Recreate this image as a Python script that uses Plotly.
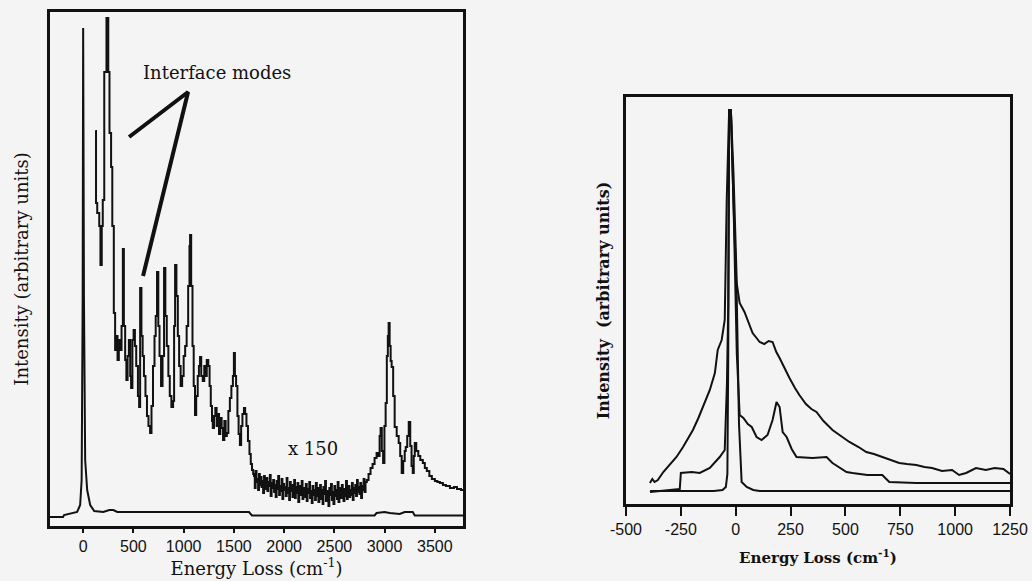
import plotly.graph_objects as go

# ---------------- Left panel data (energy loss cm^-1, intensity a.u.) ----------------
left_raw_x = [-330, -200, -190, -60, -30, -15, -5, 0, 8, 20, 40, 70, 110, 200, 260, 300, 340,
              1650, 1680, 2900, 2920, 3000, 3050, 3150, 3200, 3280, 3300, 3780]
left_raw_y = [9, 9, 11, 14, 21, 46, 226, 498, 226, 66, 36, 21, 15, 14, 16, 16, 14,
              14, 10.5, 10.5, 13, 14, 13, 12, 14, 14, 10.5, 10.5]

left_x150_x = [120, 128, 140, 160, 172, 185, 195, 210, 222, 232, 240, 250, 262, 278, 290, 305, 318, 330,
               342, 355, 368, 382, 395, 405, 418, 430, 442, 455, 468, 477, 490, 502, 515, 528, 545, 557,
               567, 580, 592, 605, 620, 635, 650, 666, 680, 695, 710, 722, 735, 748, 760, 775, 790, 805,
               818, 832, 848, 862, 878, 895, 905, 915, 928, 942, 955, 970, 985, 1000, 1015, 1030, 1045,
               1058, 1064, 1075, 1088, 1100, 1113, 1125, 1140, 1152, 1163, 1175, 1190, 1205, 1215, 1230,
               1245, 1258, 1270, 1282, 1290, 1302, 1315, 1328, 1340, 1352, 1365, 1378, 1392, 1405, 1418,
               1430, 1445, 1460, 1475, 1490, 1500, 1510, 1522, 1535, 1547, 1560, 1572, 1585, 1600, 1612,
               1625, 1640, 1655, 1668, 1680, 1692,
               1700, 1708, 1716, 1725, 1733, 1741, 1750, 1758, 1766, 1775, 1783, 1791, 1800, 1808, 1816,
               1825, 1833, 1841, 1850, 1858, 1866, 1875, 1883, 1891, 1900, 1908, 1916, 1925, 1933, 1941,
               1950, 1958, 1966, 1975, 1983, 1991, 2000, 2008, 2016, 2025, 2033, 2041, 2050, 2058, 2066,
               2075, 2083, 2091, 2100, 2108, 2116, 2125, 2133, 2141, 2150, 2158, 2166, 2175, 2183, 2191,
               2200, 2208, 2216, 2225, 2233, 2241, 2250, 2258, 2266, 2275, 2283, 2291, 2300, 2308, 2316,
               2325, 2333, 2341, 2350, 2358, 2366, 2375, 2383, 2391, 2400, 2408, 2416, 2425, 2433, 2441,
               2450, 2458, 2466, 2475, 2483, 2491, 2500, 2508, 2516, 2525, 2533, 2541, 2550, 2558, 2566,
               2575, 2583, 2591, 2600, 2608, 2616, 2625, 2633, 2641, 2650, 2658, 2666, 2675, 2683, 2691,
               2700, 2708, 2716, 2725, 2733, 2741, 2750, 2758, 2766, 2775, 2783, 2791, 2800, 2810,
               2823, 2840, 2860, 2880, 2900, 2920, 2935, 2950, 2960, 2972, 2985, 2998, 3010, 3022, 3032,
               3040, 3050, 3060, 3070, 3085, 3100, 3120, 3140, 3155, 3170, 3185, 3200, 3210, 3225, 3240,
               3255, 3268, 3280, 3290, 3300, 3315, 3335, 3355, 3380, 3400, 3420, 3445, 3470, 3500, 3525,
               3550, 3580, 3610, 3650, 3690, 3720, 3760, 3780]
left_x150_y = [395, 323, 313, 300, 261, 300, 326, 454, 454, 508, 508, 454, 393, 359, 300, 213, 176, 190,
               166, 186, 176, 200, 277, 200, 166, 146, 170, 186, 150, 138, 186, 196, 180, 160, 130, 119,
               238, 190, 170, 150, 130, 110, 100, 93, 120, 160, 190, 210, 254, 200, 170, 140, 170, 258,
               210, 180, 150, 130, 119, 125, 200, 261, 230, 190, 160, 140, 150, 170, 180, 200, 240,
               280, 291, 240, 180, 140, 111, 130, 150, 160, 169, 150, 145, 160, 150, 166,
               160, 140, 120, 105, 98, 110, 118, 100, 112, 92, 108, 98, 86, 105, 90,
               93, 115, 128, 140, 150, 173, 150, 140, 110, 92, 81, 100, 112, 118, 112,
               100, 85, 72, 62, 56, 52,
               50, 38, 55, 44, 47, 36, 52, 41, 49, 39, 45, 33, 50, 42, 37,
               48, 35, 44, 40, 51, 30, 43, 38, 46, 34, 41, 29, 45, 37, 50,
               31, 40, 35, 47, 27, 42, 36, 39, 30, 48, 33, 38, 26, 44, 35,
               41, 29, 37, 46, 28, 39, 33, 43, 24, 36, 40, 31, 45, 27, 38,
               34, 29, 42, 25, 37, 33, 44, 28, 35, 23, 40, 31, 36, 26, 43,
               30, 38, 24, 34, 41, 27, 36, 22, 39, 32, 45, 25, 35, 29, 20,
               38, 31, 42, 26, 34, 22, 40, 30, 36, 27, 44, 24, 33, 38, 28,
               41, 32, 25, 37, 30, 45, 27, 35, 40, 29, 36, 31, 43, 26, 38,
               33, 41, 30, 46, 34, 39, 32, 43, 28, 40, 36, 47, 34, 44,
               46, 52, 58, 62, 68, 73, 70, 90, 98, 75, 63, 100, 123, 170, 190,
               203, 180, 165, 159, 130, 99, 90, 83, 70, 53, 65, 75, 79, 90, 104,
               80, 60, 53, 70, 83, 75, 70, 66, 63, 58, 55, 50, 47, 45, 44,
               43, 41, 40, 38, 39, 37, 36, 36]

# Callouts
callout_x = [457, 1044, 596]
callout_y = [389, 434, 250]
label_x, label_y = 1332, 454
scale_x, scale_y = 2286, 78

left_ticks = [0, 500, 1000, 1500, 2000, 2500, 3000, 3500]
left_tick_text = ["0", "500", "1000", "1500", "2000", "2500", "3000", "3500"]

# ---------------- Right panel data ----------------
r_narrow_x = [-390, -100, -60, -45, -38, -34, -30, -22, -10, 5, 15, 27, 50, 80, 109, 1250]
r_narrow_y = [13, 13, 14, 17, 30, 150, 394, 394, 300, 204, 80, 22, 17, 14, 13, 13]

r_mid_x = [-391, -300, -255, -250, -200, -164, -118, -73, -50, -40, -34, -30, -22, -10, 5, 18, 35, 55, 73,
           95, 118, 145, 168, 186, 200, 214, 232, 255, 277, 350, 414, 441, 505, 532, 600, 668, 700, 823, 1000, 1250]
r_mid_y = [12, 14, 15, 31, 32, 31, 36, 47, 54, 120, 200, 394, 394, 300, 150, 89, 86, 80, 77,
           67, 64, 69, 84, 102, 97, 72, 67, 55, 47, 46, 47, 41, 32, 31, 29, 29, 22, 21, 21, 21]

r_broad_x = [-391, -380, -370, -355, -330, -300, -270, -240, -215, -195, -170, -150, -118, -95, -82, -64,
             -50, -41, -34, -30, -22, -10, 5, 18, 40, 60, 77, 95, 109, 130, 150, 168, 185, 200, 225, 245,
             270, 290, 320, 345, 368, 400, 441, 480, 518, 560, 595, 630, 668, 700, 745, 780, 823, 860,
             895, 940, 986, 1018, 1050, 1095, 1140, 1180, 1220, 1250]
r_broad_y = [21, 25, 22, 24, 32, 39, 47, 57, 66, 74, 86, 97, 114, 131, 154, 164,
             184, 304, 380, 394, 394, 330, 220, 201, 192, 180, 171, 166, 162, 160, 163, 162, 152, 146, 134, 126,
             116, 109, 100, 95, 92, 83, 74, 68, 62, 57, 52, 50, 47, 44, 41, 40, 39, 37,
             36, 33, 34, 29, 31, 36, 34, 36, 35, 30]

right_ticks = [-500, -250, 0, 250, 500, 750, 1000, 1250]
right_tick_text = ["-500", "-250", "0", "250", "500", "750", "1000", "1250"]

# ---------------- Figure ----------------
BG = "#f4f4f4"
INK = "#111111"
SERIF = "DejaVu Serif, Liberation Serif, serif"
SANS = "Liberation Sans, Arial, sans-serif"
W, H = 1032, 581
MT, MB = 12, 55
PH = H - MT - MB  # plot-area height in px


def ydom(top_px, bottom_px):
    return [(H - MB - bottom_px) / PH, (H - MB - top_px) / PH]


fig = go.Figure()
line_style = dict(color=INK, width=2)

fig.add_trace(go.Scatter(x=left_raw_x, y=left_raw_y, mode="lines", line=line_style,
                         xaxis="x", yaxis="y", showlegend=False))
fig.add_trace(go.Scatter(x=left_x150_x, y=left_x150_y, mode="lines", line=dict(color=INK, width=2, shape="hv"),
                         xaxis="x", yaxis="y", showlegend=False))
fig.add_trace(go.Scatter(x=callout_x, y=callout_y, mode="lines", line=dict(color=INK, width=4),
                         xaxis="x", yaxis="y", showlegend=False))

for xs, ys in [(r_narrow_x, r_narrow_y), (r_mid_x, r_mid_y), (r_broad_x, r_broad_y)]:
    fig.add_trace(go.Scatter(x=xs, y=ys, mode="lines", line=line_style,
                             xaxis="x2", yaxis="y2", showlegend=False))

axis_common = dict(showline=True, linecolor=INK, linewidth=2.5, mirror=True, showgrid=False,
                   zeroline=False, automargin=False)

fig.update_layout(
    width=W, height=H,
    paper_bgcolor=BG, plot_bgcolor=BG,
    margin=dict(l=0, r=0, t=MT, b=MB, autoexpand=False),
    xaxis=dict(domain=[50/W, 463/W], range=[-330, 3780], tickvals=left_ticks, ticktext=left_tick_text,
               ticks="outside", ticklen=4, tickwidth=1.5, tickcolor=INK,
               tickfont=dict(family=SANS, size=16, color=INK),
               title=dict(text="Energy Loss (cm<sup>-1</sup>)", font=dict(family=SERIF, size=18, color=INK),
                          standoff=6),
               anchor="y", **axis_common),
    yaxis=dict(domain=ydom(12, 526), range=[0, 514], showticklabels=False, ticks="",
               title=dict(text="Intensity (arbitrary units)", font=dict(family=SERIF, size=18, color=INK),
                          standoff=14),
               anchor="x", **axis_common),
    xaxis2=dict(domain=[626/W, 1010/W], range=[-500, 1250], tickvals=right_ticks, ticktext=right_tick_text,
                ticks="outside", ticklen=9, tickwidth=2, tickcolor=INK,
                tickfont=dict(family=SANS, size=16, color=INK),
                title=dict(text="<b>Energy Loss (cm<sup>-1</sup>)</b>", font=dict(family=SERIF, size=15, color=INK),
                           standoff=16),
                anchor="y2", **axis_common),
    yaxis2=dict(domain=ydom(97, 504), range=[0, 407], showticklabels=False, ticks="",
                title=dict(text="<b>Intensity  (arbitrary units)</b>", font=dict(family=SERIF, size=16, color=INK),
                           standoff=10),
                anchor="x2", **axis_common),
    annotations=[
        dict(x=label_x, y=label_y, xref="x", yref="y", text="Interface modes", showarrow=False,
             font=dict(family=SERIF, size=18, color=INK)),
        dict(x=scale_x, y=scale_y, xref="x", yref="y", text="x 150", showarrow=False,
             font=dict(family=SERIF, size=18, color=INK)),
    ],
)

fig.write_html("out.html", config={"displayModeBar": False},
               post_script="document.body.style.margin='0';document.body.style.background='#f4f4f4';")
